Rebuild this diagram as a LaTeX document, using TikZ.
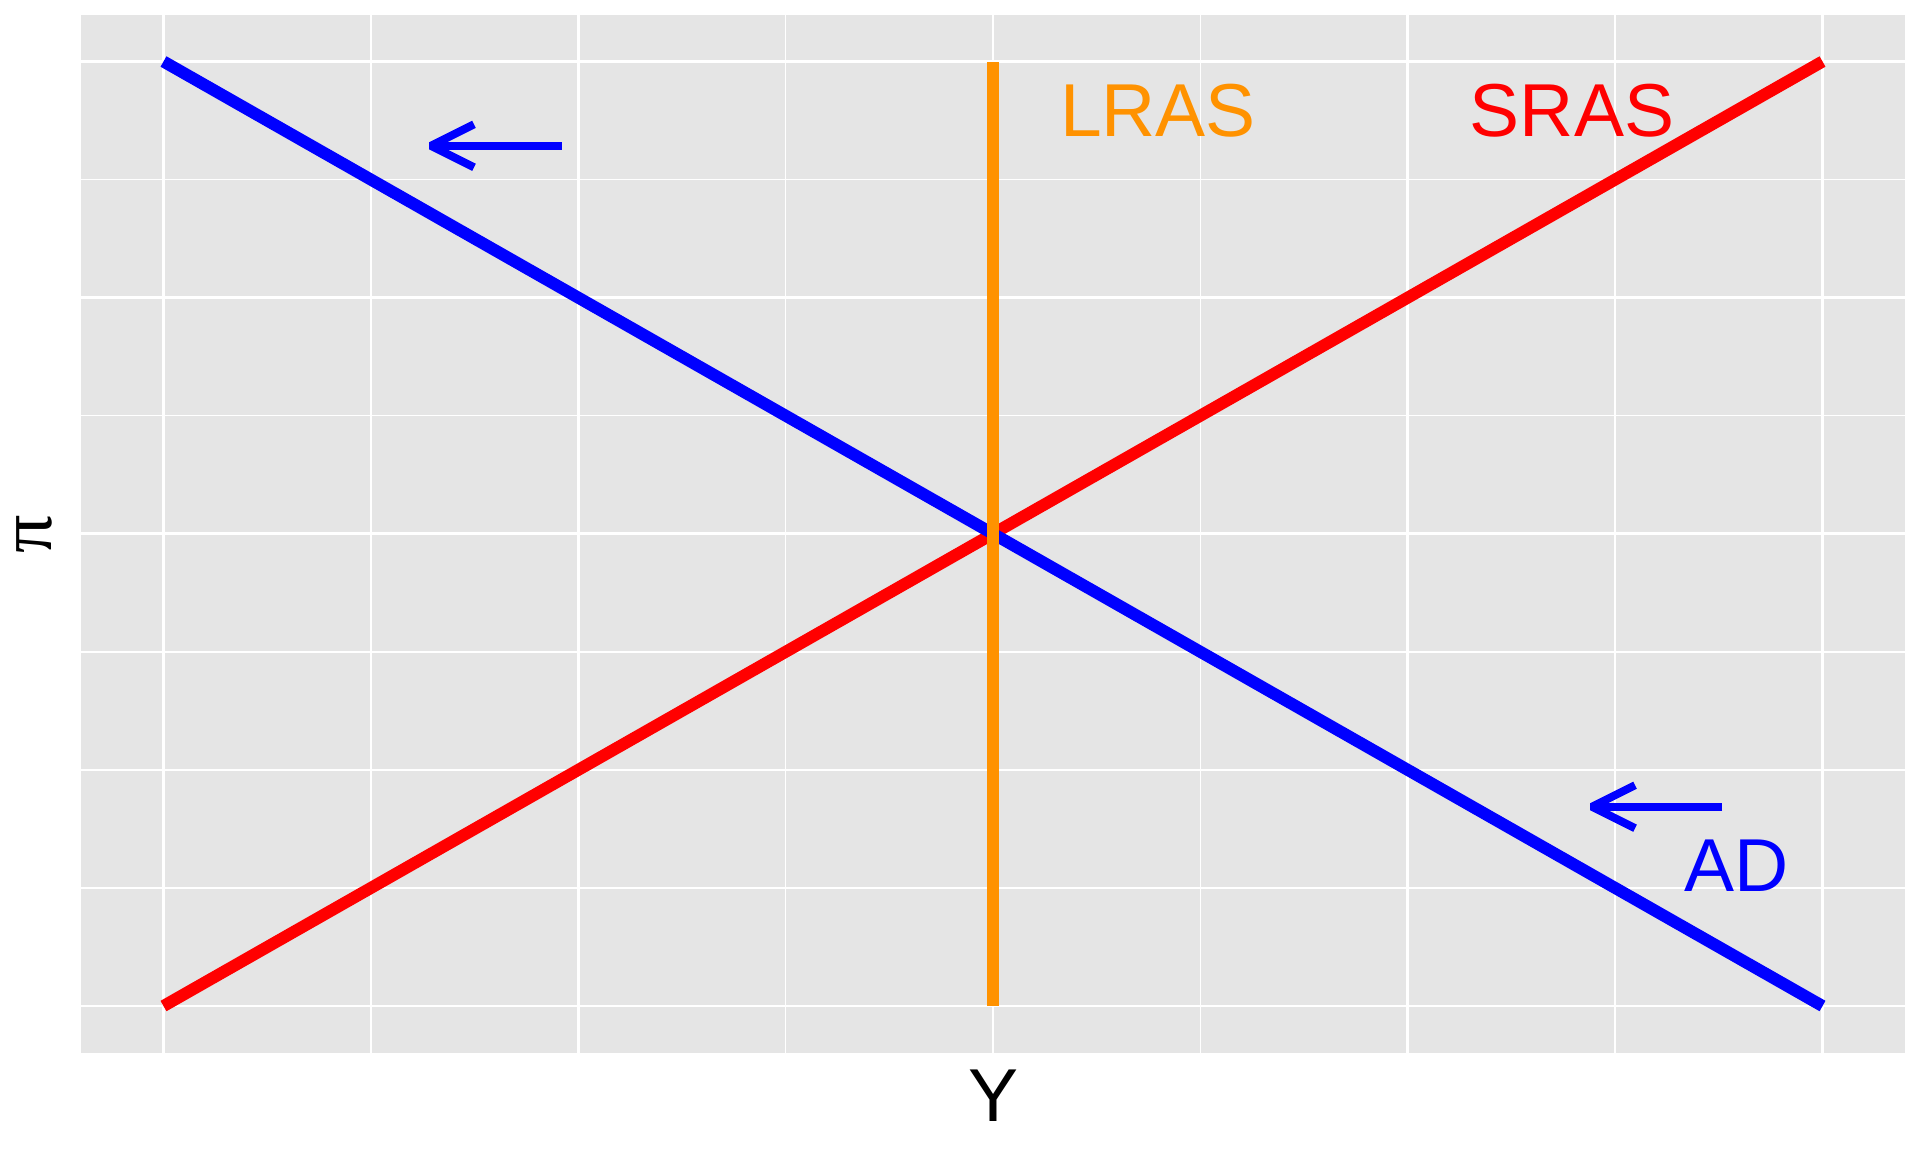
\documentclass[tikz,border=0pt]{standalone}
\usepackage{fontspec}
\setmainfont{Liberation Sans}
\newfontfamily\pifont{Liberation Serif}
\definecolor{panelbg}{HTML}{E5E5E5}
\definecolor{lrascol}{HTML}{FF9200}
\definecolor{adcol}{HTML}{0000FF}
\definecolor{srascol}{HTML}{FF0000}
\tikzset{
  majorgrid/.style={draw=white, line width=1.4pt},
  minorgrid/.style={draw=white, line width=0.75pt},
  curve/.style={line width=6pt, line cap=butt},
  shiftarrow/.style={draw=adcol, line width=4pt, line cap=butt, line join=bevel},
  lbl/.style={font=\fontsize{37.5}{45}\selectfont, inner sep=0pt, anchor=base}
}
\begin{document}
\begin{tikzpicture}[x=0.5pt,y=-0.5pt]
\useasboundingbox (0,0) rectangle (1920,1152);
\fill[panelbg] (81,15) rectangle (1905,1053);
% grid
\foreach \xx in {370.875,785.625,1200.375,1615.125}
  \draw[minorgrid] (\xx,15) -- (\xx,1053);
\foreach \yy in {179.6,415.7,651.8,887.9}
  \draw[minorgrid] (81,\yy) -- (1905,\yy);
\foreach \xx in {163.5,578.25,993,1407.75,1822.5}
  \draw[majorgrid] (\xx,15) -- (\xx,1053);
\foreach \yy in {61.5,297.6,533.75,769.9,1006}
  \draw[majorgrid] (81,\yy) -- (1905,\yy);
% curve end points
\coordinate (srasBot) at (163.5,1006);
\coordinate (srasTop) at (1822.5,61.5);
\coordinate (adTop) at (163.5,61.5);
\coordinate (adBot) at (1822.5,1006);
\coordinate (lrasTop) at (993,61.5);
\coordinate (lrasBot) at (993,1006);
\draw[curve, srascol] (srasBot) -- (srasTop);
\draw[curve, adcol] (adTop) -- (adBot);
\draw[curve, lrascol, line width=5.85pt] (lrasBot) -- (lrasTop);
% shift arrows
\coordinate (a1tail) at (561.7,145.8);
\coordinate (a1tip) at (431,145.8);
\coordinate (a1b1) at (474,124.3);
\coordinate (a1b2) at (474,167.3);
\draw[shiftarrow] (a1tail) -- (a1tip);
\draw[shiftarrow] (a1b1) -- (a1tip) -- (a1b2);
\coordinate (a2tail) at (1722,806.7);
\coordinate (a2tip) at (1592,806.7);
\coordinate (a2b1) at (1635,785.2);
\coordinate (a2b2) at (1635,828.2);
\draw[shiftarrow] (a2tail) -- (a2tip);
\draw[shiftarrow] (a2b1) -- (a2tip) -- (a2b2);
% labels
\node[lbl, text=lrascol] (lraslbl) at (1158,136.5) {LRAS};
\node[lbl, text=srascol] (sraslbl) at (1572,136.5) {SRAS};
\node[lbl, text=adcol] (adlbl) at (1737,891.7) {AD};
\node[lbl] (ytitle) at (993,1121.7) {Y};
\node[inner sep=0pt, rotate=90, font=\pifont\fontsize{38}{44}\selectfont] (pititle) at (34,534) {π};
\end{tikzpicture}
\end{document}
